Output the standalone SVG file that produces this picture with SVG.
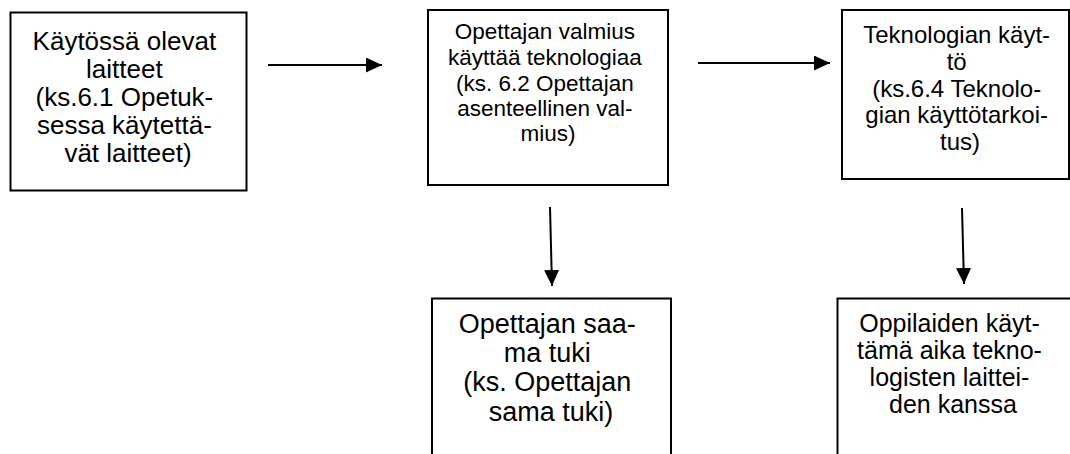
<svg xmlns="http://www.w3.org/2000/svg" width="1070" height="454" viewBox="0 0 1070 454">
<defs>
<style>
.box{fill:#fff;stroke:#000;stroke-width:2}
.t{font-family:"Liberation Sans",Arial,sans-serif;fill:#000;text-anchor:middle}
.c{stroke:#000;stroke-width:2;fill:none}
</style>
<marker id="ah" markerUnits="userSpaceOnUse" markerWidth="16" markerHeight="15" refX="16" refY="7.5" orient="auto">
<path d="M0,0 L16,7.5 L0,15 z" fill="#000"/>
</marker>
</defs>
<rect width="1070" height="454" fill="#fff"/>
<g id="n1">
<rect class="box" x="10.5" y="12.5" width="236" height="178"/>
<text class="t" font-size="26">
<tspan x="128" y="50">Käytössä olevat</tspan>
<tspan x="128" y="78">laitteet</tspan>
<tspan x="128" y="106">(ks.6.1 Opetuk-</tspan>
<tspan x="128" y="134">sessa käytettä-</tspan>
<tspan x="128" y="162">vät laitteet)</tspan>
</text>
</g>
<g id="n2">
<rect class="box" x="428" y="10" width="240" height="175"/>
<text class="t" font-size="22.5">
<tspan x="548" y="39">Opettajan valmius</tspan>
<tspan x="548" y="65">käyttää teknologiaa</tspan>
<tspan x="548" y="91">(ks. 6.2 Opettajan</tspan>
<tspan x="548" y="116">asenteellinen val-</tspan>
<tspan x="548" y="141">mius)</tspan>
</text>
</g>
<g id="n3">
<rect class="box" x="842" y="10" width="227" height="169"/>
<text class="t" font-size="24">
<tspan x="960" y="43">Teknologian käyt-</tspan>
<tspan x="960" y="70">tö</tspan>
<tspan x="960" y="97">(ks.6.4 Teknolo-</tspan>
<tspan x="960" y="123">gian käyttötarkoi-</tspan>
<tspan x="960" y="150">tus)</tspan>
</text>
</g>
<g id="n4">
<path class="box" d="M432,460 L432,298.5 L671,298.5 L671,460"/>
<text class="t" font-size="27">
<tspan x="551" y="333">Opettajan saa-</tspan>
<tspan x="551" y="362">ma tuki</tspan>
<tspan x="551" y="391">(ks. Opettajan</tspan>
<tspan x="551" y="421">sama tuki)</tspan>
</text>
</g>
<g id="n5">
<path class="box" d="M837.5,460 L837.5,298.5 L1075,298.5"/>
<text class="t" font-size="25">
<tspan x="953" y="332">Oppilaiden käyt-</tspan>
<tspan x="953" y="359">tämä aika tekno-</tspan>
<tspan x="953" y="386">logisten laittei-</tspan>
<tspan x="953" y="413">den kanssa</tspan>
</text>
</g>
<g id="connectors">
<line class="c" x1="268" y1="65" x2="382" y2="65" marker-end="url(#ah)"/>
<line class="c" x1="698" y1="63" x2="830" y2="63" marker-end="url(#ah)"/>
<line class="c" x1="550" y1="207" x2="552" y2="286" marker-end="url(#ah)"/>
<line class="c" x1="962" y1="208" x2="964" y2="284" marker-end="url(#ah)"/>
</g>
</svg>
